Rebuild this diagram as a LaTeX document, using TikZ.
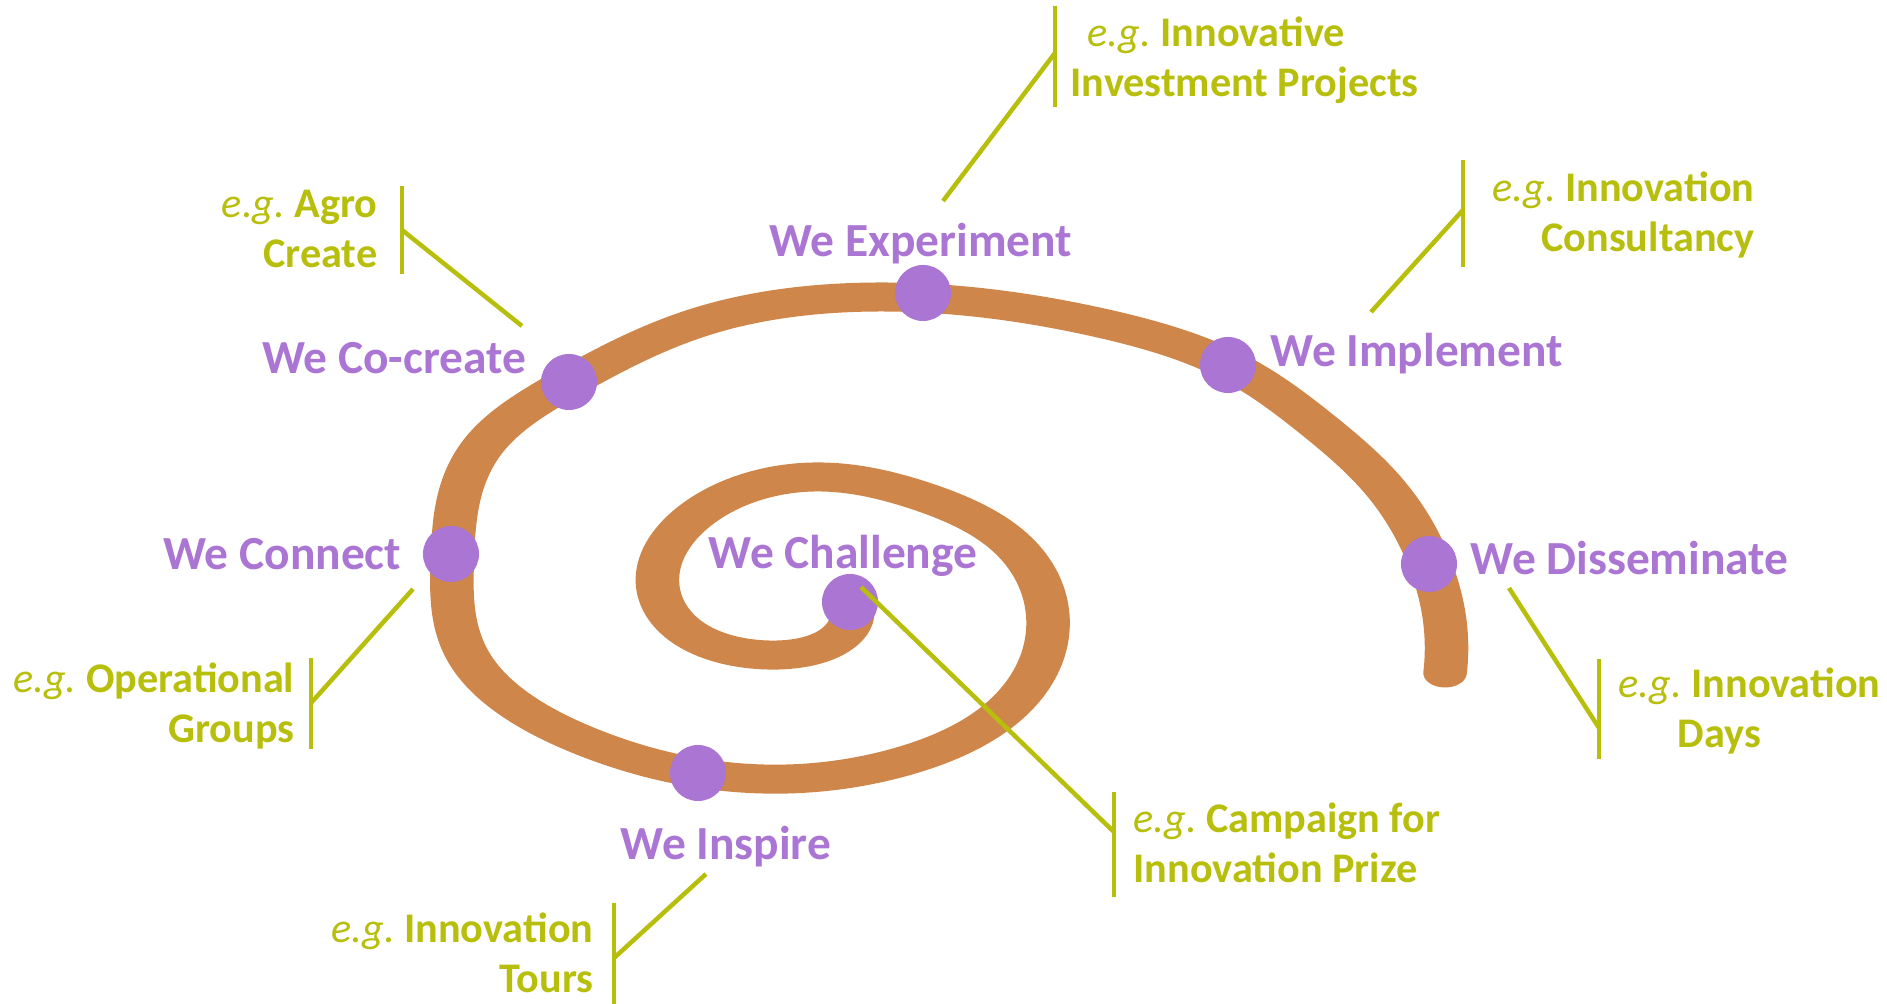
\documentclass[tikz,border=0pt]{standalone}
\usepackage{fontspec}
\setmainfont{Carlito}
\usepackage{xcolor}
\usetikzlibrary{calc, positioning, hobby}
\definecolor{spiralorange}{RGB}{207,134,74}
\definecolor{stagepurple}{RGB}{170,117,211}
\definecolor{examplegreen}{RGB}{183,190,12}
\newcommand{\egtext}{{\mdseries\itshape e.g.}}
\frenchspacing

\begin{document}
\begin{tikzpicture}[x=0.01cm,y=-0.01cm,
    stage dot/.style={circle,fill=stagepurple,inner sep=0pt,minimum size=0.56cm},
    stage/.style={text=stagepurple,inner sep=0pt,font=\fontsize{13.5}{16}\selectfont\bfseries},
    example/.style={text=examplegreen,inner sep=0pt,font=\fontsize{12}{14.4}\selectfont\bfseries},
    bracket/.style={draw=examplegreen,line width=0.045cm}]
\useasboundingbox (0,0) rectangle (1887,1004);

% the spiral, wider across than high
\begin{scope}[transform canvas={xscale=1.5},x=0.0066667cm]
\draw[spiralorange,line width=0.29cm,line cap=round,use Hobby shortcut]
  (851,604) .. (840,636) .. (767,655) .. (688,633) .. (657,583) .. (693,517)
  .. (813,477) .. (917,495) .. (1003,537) .. (1047,615) .. (995,718) .. (900,762)
  .. (787,779) .. (698,773) .. (587,742) .. (470,660) .. (452,560)
  .. (487,441) .. (569,382) .. (706,320) .. (883,297) .. (1100,323) .. (1228,365)
  .. (1313,422) .. (1380,483) .. (1429,564) .. (1444,623) .. (1444,673);
\end{scope}

\foreach \name/\x/\y in {Challenge/850/602, Inspire/698/773, Connect/451/554,
    CoCreate/569/382, Experiment/923/293, Implement/1228/365, Disseminate/1429/564}
  \node[stage dot] (\name Dot) at (\x,\y) {};

\node[stage,anchor=base] (ChallengeLabel) at (843,569) {We Challenge};
\node[stage,anchor=base] (InspireLabel) at (726,860) {We Inspire};
\node[stage,anchor=base east] (ConnectLabel) at (402,570) {We Connect};
\node[stage,anchor=base east] (CoCreateLabel) at (527,374) {We Co-create};
\node[stage,anchor=base] (ExperimentLabel) at (921,257) {We Experiment};
\node[stage,anchor=base west] (ImplementLabel) at (1270,367) {We Implement};
\node[stage,anchor=base west] (DisseminateLabel) at (1470,575) {We Disseminate};

\node[example,align=left,anchor=base west] (ChallengeEx) at (1133,883) {\egtext{} Campaign for\\Innovation Prize};
\node[example,align=right,anchor=base east] (InspireEx) at (594,993) {\egtext{} Innovation\\Tours};
\node[example,align=right,anchor=base east] (ConnectEx) at (295,743) {\egtext{} Operational\\Groups};
\node[example,align=right,anchor=base east] (CoCreateEx) at (378,268) {\egtext{} Agro\\Create};
\node[example,align=left,anchor=base west] (ExperimentEx) at (1070,97) {\hspace*{0.17cm}\egtext{} Innovative\\Investment Projects};
\node[example,align=right,anchor=base east] (ImplementEx) at (1755,252) {\egtext{} Innovation\\Consultancy};
\node[example,align=left,anchor=base west] (DisseminateEx) at (1618,748) {\egtext{} Innovation\\\hspace*{0.59cm}Days};

% brackets: bar beside each example, line from the bar towards its stage
\foreach \name/\x/\top/\bot/\join/\tx/\ty in {Experiment/1055/6/107/53/943/201,
    CoCreate/402/186/274/230/522/326, Implement/1463/160/267/210/1371/312,
    Connect/311/658/749/703/413/589, Challenge/1114/792/897/832/861/587,
    Disseminate/1599/659/759/728/1509/588, Inspire/614/903/1004/958/706/874}
{\coordinate (\name BarTop) at (\x,\top);
 \coordinate (\name BarBottom) at (\x,\bot);
 \coordinate (\name BarJoin) at (\x,\join);
 \coordinate (\name Tip) at (\tx,\ty);
 \draw[bracket] (\name BarTop) -- (\name BarBottom);
 \draw[bracket] (\name BarJoin) -- (\name Tip);
}

\end{tikzpicture}
\end{document}
